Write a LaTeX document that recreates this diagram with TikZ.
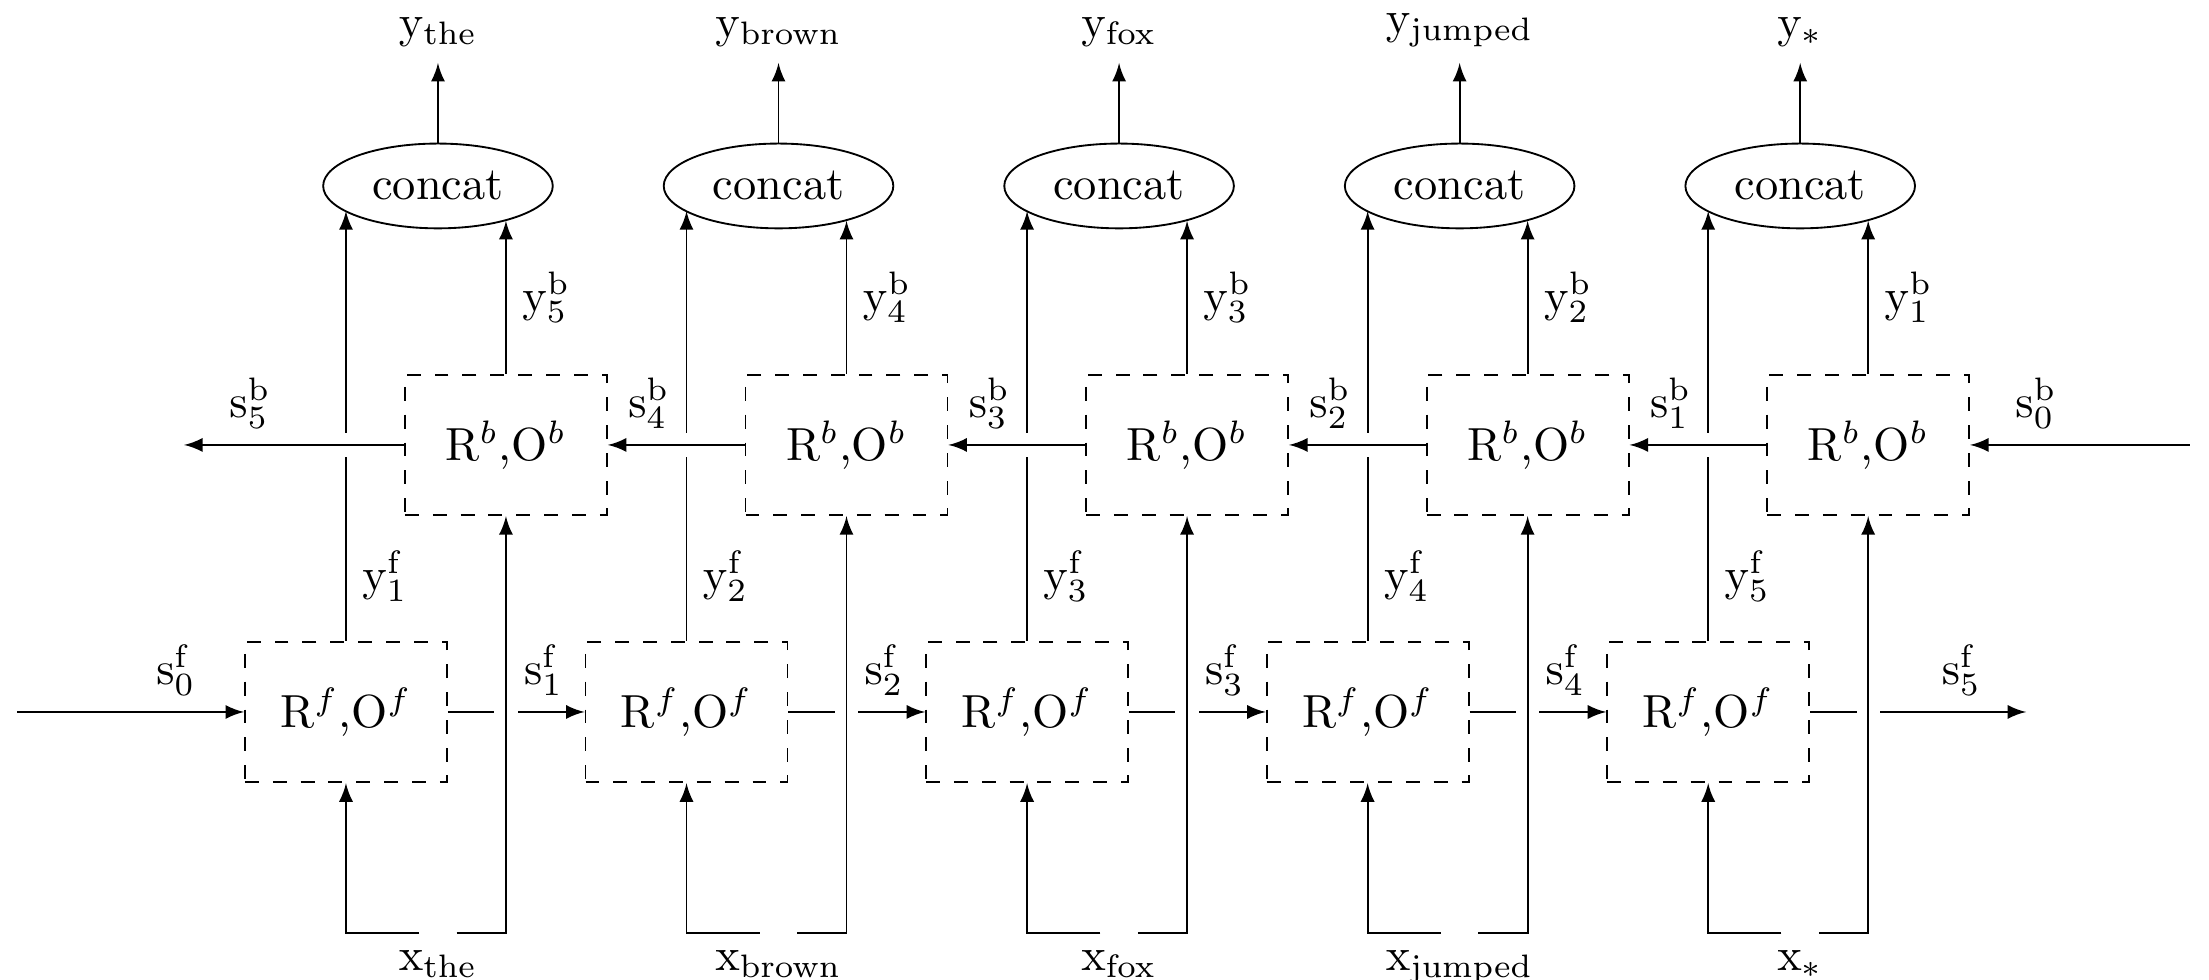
\documentclass[tikz,border=0pt]{standalone}
\usetikzlibrary{shapes.geometric}
\begin{document}
\begin{tikzpicture}[
    cell/.style={draw, dashed, minimum width=1.53cm, minimum height=1.065cm},
    cat/.style={draw, ellipse},
    split/.style={inner sep=0pt, minimum width=0.27cm, minimum height=0pt},
    arr/.style={->, >=latex},
    bridge/.style={preaction={draw=white, line width=5pt, -, shorten <=6pt, shorten >=6pt}},
]

\useasboundingbox (0,0) rectangle (16.735,7.424);

% forward cells
\node[cell] (rf1) at (2.621,2.03) {R$^f$,O$^f$};
\node[cell] (rf2) at (5.201,2.03) {R$^f$,O$^f$};
\node[cell] (rf3) at (7.781,2.03) {R$^f$,O$^f$};
\node[cell] (rf4) at (10.361,2.03) {R$^f$,O$^f$};
\node[cell] (rf5) at (12.941,2.03) {R$^f$,O$^f$};

% backward cells
\node[cell] (rb1) at (3.833,4.053) {R$^b$,O$^b$};
\node[cell] (rb2) at (6.413,4.053) {R$^b$,O$^b$};
\node[cell] (rb3) at (8.993,4.053) {R$^b$,O$^b$};
\node[cell] (rb4) at (11.573,4.053) {R$^b$,O$^b$};
\node[cell] (rb5) at (14.153,4.053) {R$^b$,O$^b$};

% concatenation
\node[cat] (cat1) at (3.318,6.015) {concat};
\node[cat] (cat2) at (5.898,6.015) {concat};
\node[cat] (cat3) at (8.478,6.015) {concat};
\node[cat] (cat4) at (11.058,6.015) {concat};
\node[cat] (cat5) at (13.638,6.015) {concat};

\node[anchor=south] (yout1) at (3.318,6.947) {$\mathrm{y_{the}}$};
\node[anchor=south] (yout2) at (5.898,6.947) {$\mathrm{y_{brown}}$};
\node[anchor=south] (yout3) at (8.478,6.947) {$\mathrm{y_{fox}}$};
\node[anchor=south] (yout4) at (11.058,6.947) {$\mathrm{y_{jumped}}$};
\node[anchor=south] (yout5) at (13.638,6.947) {$\mathrm{y_*}$};

% inputs
\node[split] (split1) at (3.318,0.356) {};
\node[split] (split2) at (5.898,0.356) {};
\node[split] (split3) at (8.478,0.356) {};
\node[split] (split4) at (11.058,0.356) {};
\node[split] (split5) at (13.638,0.356) {};

\node[anchor=north] (xin1) at (split1.south) {$\mathrm{x_{the}}$};
\node[anchor=north] (xin2) at (split2.south) {$\mathrm{x_{brown}}$};
\node[anchor=north] (xin3) at (split3.south) {$\mathrm{x_{fox}}$};
\node[anchor=north] (xin4) at (split4.south) {$\mathrm{x_{jumped}}$};
\node[anchor=north] (xin5) at (split5.south) {$\mathrm{x_*}$};

\coordinate (sf0) at (0.129,2.03);
\coordinate (sf5) at (15.35,2.03);
\coordinate (sb0) at (16.59,4.053);
\coordinate (sb5) at (1.394,4.053);

% forward outputs
\draw[arr] (rf1.north) -- node[right, pos=0.15] {$\mathrm{y^f_1}$} (rf1.north |- cat1.195);
\draw[arr] (rf2.north) -- node[right, pos=0.15] {$\mathrm{y^f_2}$} (rf2.north |- cat2.195);
\draw[arr] (rf3.north) -- node[right, pos=0.15] {$\mathrm{y^f_3}$} (rf3.north |- cat3.195);
\draw[arr] (rf4.north) -- node[right, pos=0.15] {$\mathrm{y^f_4}$} (rf4.north |- cat4.195);
\draw[arr] (rf5.north) -- node[right, pos=0.15] {$\mathrm{y^f_5}$} (rf5.north |- cat5.195);

% backward outputs
\draw[arr] (rb1.north) -- node[right] {$\mathrm{y^b_5}$} (rb1.north |- cat1.333);
\draw[arr] (rb2.north) -- node[right] {$\mathrm{y^b_4}$} (rb2.north |- cat2.333);
\draw[arr] (rb3.north) -- node[right] {$\mathrm{y^b_3}$} (rb3.north |- cat3.333);
\draw[arr] (rb4.north) -- node[right] {$\mathrm{y^b_2}$} (rb4.north |- cat4.333);
\draw[arr] (rb5.north) -- node[right] {$\mathrm{y^b_1}$} (rb5.north |- cat5.333);

\draw[arr] (cat1) -- (yout1);
\draw[arr] (cat2) -- (yout2);
\draw[arr] (cat3) -- (yout3);
\draw[arr] (cat4) -- (yout4);
\draw[arr] (cat5) -- (yout5);

% forward states
\draw[arr] (sf0) -- node[above, pos=0.7] {$\mathrm{s^f_0}$} (rf1);
\draw[arr] (rf1) -- node[above, pos=0.7] {$\mathrm{s^f_1}$} (rf2);
\draw[arr] (rf2) -- node[above, pos=0.7] {$\mathrm{s^f_2}$} (rf3);
\draw[arr] (rf3) -- node[above, pos=0.7] {$\mathrm{s^f_3}$} (rf4);
\draw[arr] (rf4) -- node[above, pos=0.7] {$\mathrm{s^f_4}$} (rf5);
\draw[arr] (rf5) -- node[above, pos=0.7] {$\mathrm{s^f_5}$} (sf5);

% backward states, bridged over the forward outputs
\draw[arr] (sb0) -- node[above, pos=0.7] {$\mathrm{s^b_0}$} (rb5);
\draw[arr, bridge] (rb5) -- node[above, pos=0.7] {$\mathrm{s^b_1}$} (rb4);
\draw[arr, bridge] (rb4) -- node[above, pos=0.7] {$\mathrm{s^b_2}$} (rb3);
\draw[arr, bridge] (rb3) -- node[above, pos=0.7] {$\mathrm{s^b_3}$} (rb2);
\draw[arr, bridge] (rb2) -- node[above, pos=0.7] {$\mathrm{s^b_4}$} (rb1);
\draw[arr, bridge] (rb1) -- node[above, pos=0.7] {$\mathrm{s^b_5}$} (sb5);

% each word feeds both directions
\draw[arr] (split1) -| (rf1);
\draw[arr] (split2) -| (rf2);
\draw[arr] (split3) -| (rf3);
\draw[arr] (split4) -| (rf4);
\draw[arr] (split5) -| (rf5);
\draw[arr, bridge] (split1) -| (rb1);
\draw[arr, bridge] (split2) -| (rb2);
\draw[arr, bridge] (split3) -| (rb3);
\draw[arr, bridge] (split4) -| (rb4);
\draw[arr, bridge] (split5) -| (rb5);

\end{tikzpicture}
\end{document}
